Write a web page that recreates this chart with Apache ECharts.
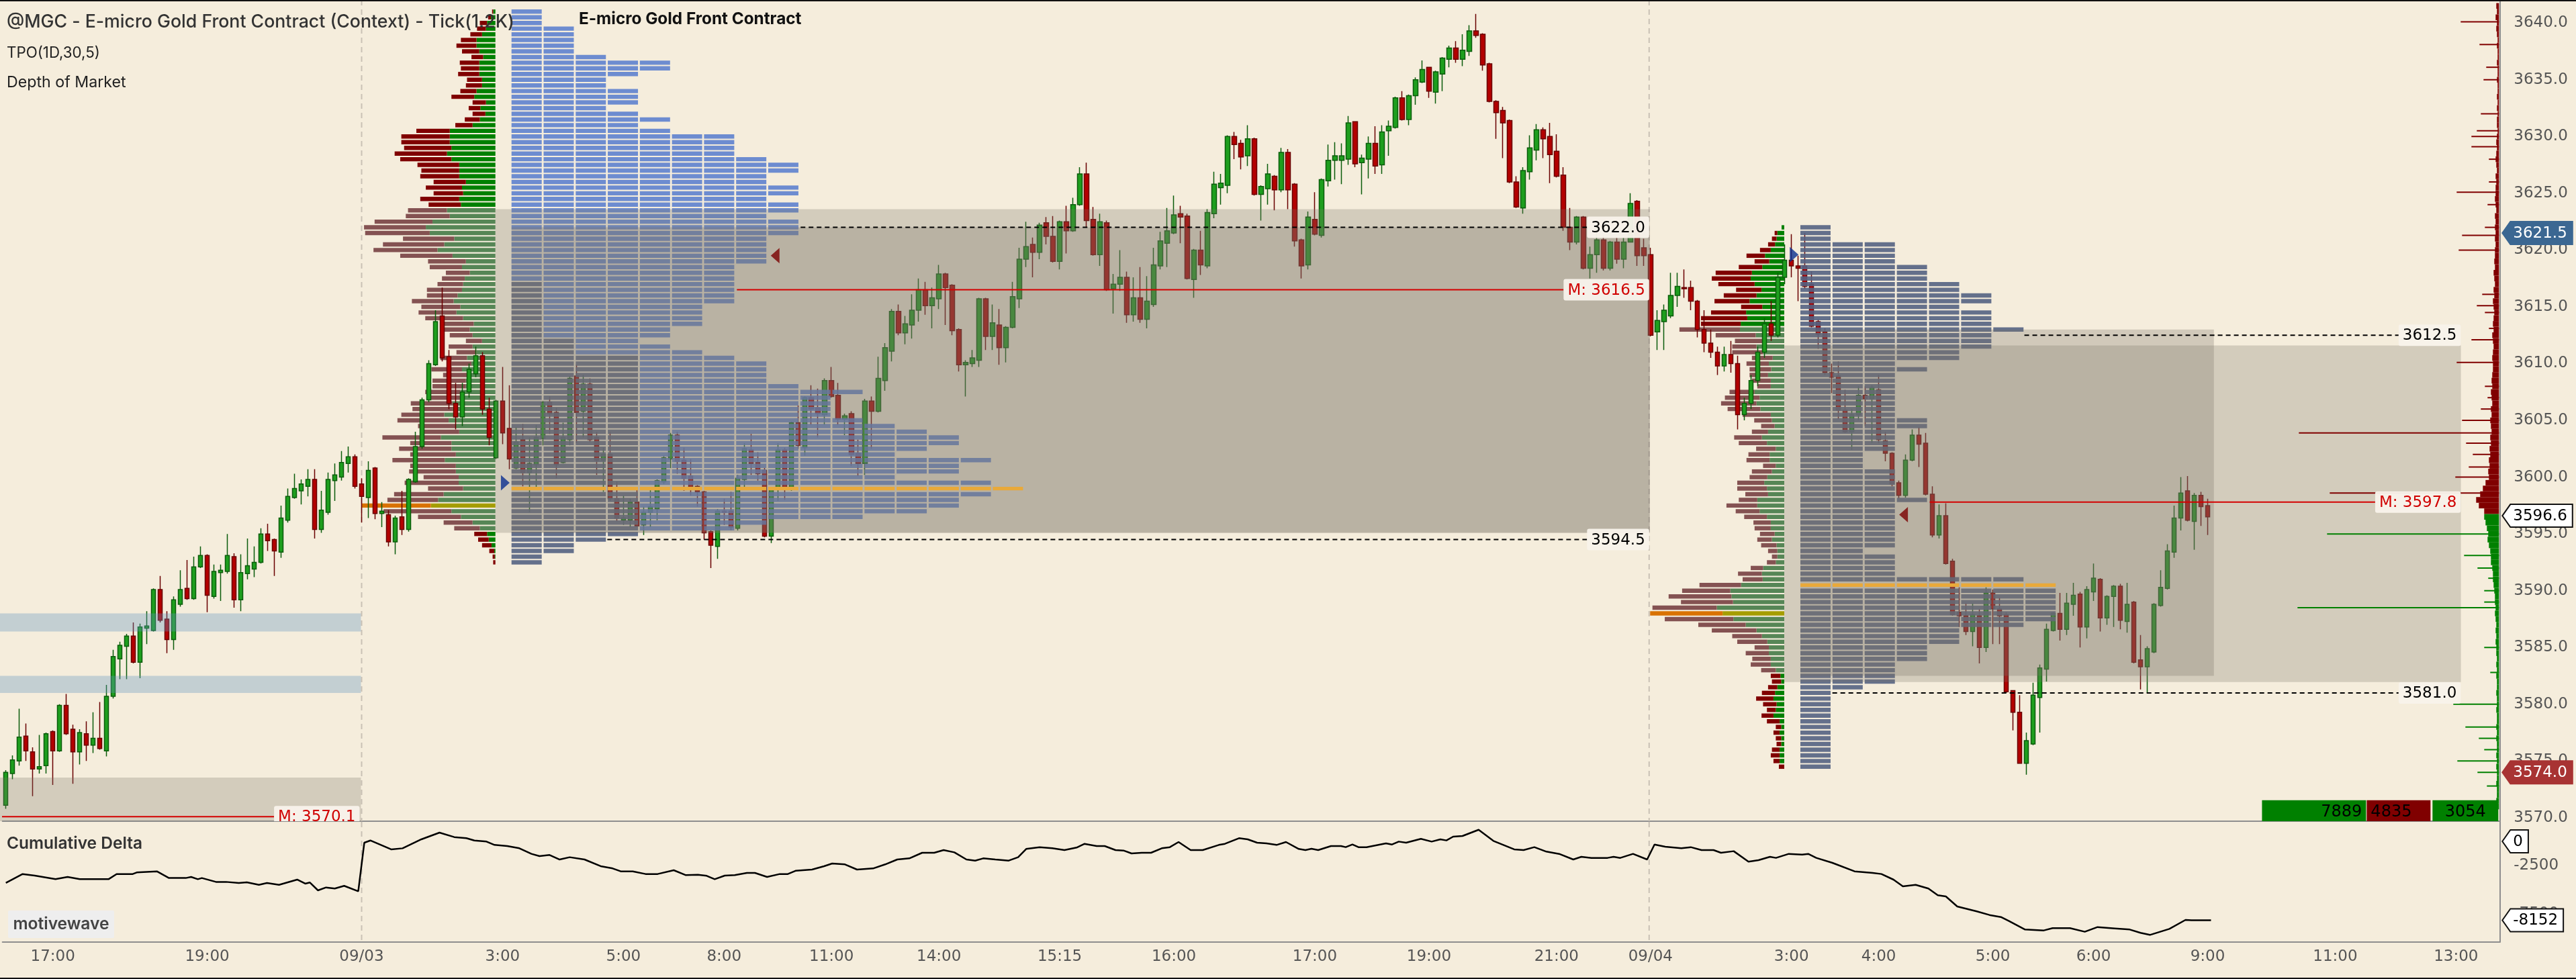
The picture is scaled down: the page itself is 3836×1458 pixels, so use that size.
<!DOCTYPE html>
<html><head><meta charset="utf-8"><title>MGC</title>
<script src="https://cdn.jsdelivr.net/npm/echarts@6.0.0/dist/echarts.min.js"></script>
<style>html,body{margin:0;padding:0;background:#f5eddc;overflow:hidden}#chart{width:3836px;height:1458px}</style>
</head><body><div id="chart"></div><script>
// ================= DATA =================
// candles: [open, high, low, close]
const candlesPre = [
[3571.1,3574.2,3570.8,3574.0],[3573.9,3575.5,3573.4,3575.1],[3575.0,3579.6,3574.6,3577.1],[3577.2,3578.3,3575.0,3575.9],[3575.8,3576.2,3571.9,3574.3],
[3574.3,3577.3,3573.9,3574.5],[3574.6,3577.5,3573.9,3577.4],[3577.6,3577.7,3572.9,3575.9],[3575.9,3580.0,3575.8,3579.9],[3579.9,3580.9,3577.3,3577.4],
[3577.8,3578.2,3573.0,3575.8],[3575.8,3577.8,3574.7,3577.5],[3577.4,3578.5,3575.0,3576.4],[3576.4,3579.3,3575.7,3577.0],[3577.0,3580.2,3576.0,3576.1],
[3575.9,3581.7,3575.4,3580.7],[3580.7,3584.8,3580.5,3584.2],[3584.0,3585.5,3582.2,3585.2],[3585.1,3586.2,3582.2,3586.0],[3586.0,3587.2,3583.6,3583.7],
[3583.7,3587.1,3582.3,3586.8],[3586.7,3588.2,3585.3,3586.9],[3586.5,3590.2,3586.4,3590.1],[3590.1,3591.3,3587.2,3587.4],[3587.5,3588.2,3584.5,3585.7],
[3585.7,3589.5,3584.8,3589.2],[3588.8,3591.8,3588.6,3590.1],[3590.2,3592.7,3589.2,3589.3],[3589.3,3593.0,3589.2,3592.1],[3592.1,3593.9,3592.0,3593.1],
[3593.1,3593.2,3588.1,3589.6],[3589.5,3592.3,3589.3,3591.7],[3591.6,3592.3,3589.1,3591.8],[3591.7,3595.0,3591.5,3593.1],[3593.0,3593.3,3588.5,3589.2],
[3589.2,3593.2,3588.2,3591.6],[3591.5,3594.6,3591.0,3592.2],[3591.9,3593.9,3591.2,3592.5],[3592.5,3595.5,3592.4,3595.0],[3595.0,3595.9,3593.5,3594.4],
[3594.5,3594.6,3591.3,3593.5],[3593.4,3597.5,3592.9,3596.4],[3596.2,3599.0,3596.0,3598.3],[3598.2,3600.3,3598.1,3599.0],[3598.8,3599.8,3597.6,3599.4],
[3599.2,3600.7,3598.3,3599.8],[3599.8,3600.7,3594.6,3595.4],[3595.4,3598.8,3595.1,3597.1],[3596.9,3600.4,3596.7,3599.8],[3599.7,3601.2,3597.9,3600.2],
[3600.0,3602.3,3599.7,3601.3],[3601.2,3602.7,3600.4,3601.8],[3601.8,3602.0,3599.0,3599.2]
];
const candlesDay1 = [
[3599.4,3599.9,3596.0,3598.3],[3598.2,3601.4,3596.4,3600.6],[3600.8,3600.9,3596.3,3596.8],[3596.8,3597.8,3595.6,3597.0],[3596.7,3597.1,3593.9,3594.3],
[3594.3,3596.6,3593.2,3596.4],[3596.5,3598.8,3594.9,3595.4],[3595.4,3599.9,3595.2,3599.8],[3599.6,3604.0,3599.5,3602.7],[3602.7,3607.0,3602.5,3606.8],
[3606.8,3610.3,3606.6,3610.0],[3609.9,3614.7,3609.8,3613.7],[3614.2,3616.7,3610.2,3610.5],[3610.6,3611.2,3606.0,3606.5],[3606.5,3608.3,3604.2,3605.3],
[3605.3,3608.3,3604.5,3607.5],[3607.5,3610.0,3607.0,3609.5],[3609.1,3611.5,3608.8,3610.7],[3610.7,3611.0,3605.5,3606.0],[3606.0,3607.0,3602.8,3603.5],
[3601.7,3606.8,3601.6,3606.7],[3606.7,3609.7,3602.9,3603.9],[3604.3,3608.1,3600.7,3601.6],[3600.8,3604.4,3600.7,3603.1],[3603.3,3604.7,3599.2,3600.4],
[3600.4,3603.5,3596.9,3601.2],[3601.1,3604.6,3599.0,3603.5],[3603.4,3606.7,3602.8,3606.6],[3606.6,3607.1,3603.8,3605.6],[3605.7,3606.1,3599.9,3601.1],
[3601.3,3604.8,3601.2,3603.5],[3603.3,3608.9,3602.8,3608.7],[3608.9,3609.9,3603.0,3605.7],[3605.8,3609.0,3603.5,3608.2],[3608.2,3608.7,3603.1,3603.3],
[3603.5,3604.0,3600.2,3601.5],[3601.5,3602.6,3598.7,3602.0],[3602.0,3604.0,3597.9,3598.1],[3598.1,3599.6,3596.1,3596.4],[3596.2,3598.4,3595.8,3596.4],
[3596.2,3598.1,3595.6,3597.8],[3597.8,3598.9,3595.6,3595.7],[3595.8,3597.4,3594.9,3596.9],[3596.9,3599.0,3595.6,3597.4],[3597.2,3599.8,3596.2,3599.7],
[3599.6,3601.9,3599.4,3601.7],[3601.6,3603.9,3600.8,3603.7],[3603.7,3604.0,3600.3,3601.4],[3601.5,3602.6,3598.8,3599.9],[3600.1,3601.6,3598.4,3599.0],
[3599.2,3599.3,3597.4,3598.7],[3598.7,3598.8,3594.5,3595.1],[3595.2,3595.3,3592.0,3594.0],[3593.9,3597.2,3592.8,3597.0],[3597.0,3598.1,3595.8,3596.9],
[3597.0,3598.7,3595.3,3595.6],[3595.5,3600.2,3595.3,3599.9],[3599.8,3603.0,3598.9,3602.5],[3602.4,3603.8,3600.2,3601.2],[3601.3,3602.2,3599.7,3600.3],
[3600.6,3600.8,3594.7,3594.8],[3594.8,3599.0,3594.2,3598.9],[3598.9,3603.0,3597.9,3602.4],[3602.4,3602.6,3598.0,3598.9],[3598.9,3604.9,3598.8,3604.8],
[3604.8,3606.3,3602.5,3602.8],[3602.6,3607.1,3601.9,3607.0],[3607.0,3608.1,3604.6,3606.0],[3606.1,3607.8,3603.5,3605.6],[3605.5,3608.7,3604.6,3608.5],
[3608.5,3609.7,3607.0,3607.1],[3607.2,3608.3,3604.6,3605.1],[3605.1,3605.6,3603.7,3605.4],[3605.6,3605.8,3601.0,3602.0],[3602.1,3603.3,3600.1,3601.2],
[3601.2,3606.9,3600.2,3606.7],[3606.7,3607.1,3602.5,3605.8],[3605.8,3610.6,3605.7,3608.7],[3608.5,3611.8,3607.6,3611.4],[3611.1,3614.8,3610.2,3614.6],
[3614.6,3615.2,3612.5,3612.7],[3612.7,3614.2,3611.7,3613.5],[3613.4,3616.1,3612.2,3614.7],[3614.7,3617.5,3613.7,3616.5],[3616.5,3617.2,3614.3,3615.1],
[3615.1,3616.7,3613.1,3615.8],[3615.7,3618.7,3614.8,3617.9],[3617.9,3618.0,3613.4,3616.7],[3616.9,3617.0,3612.5,3612.9],[3613.0,3613.1,3609.3,3609.9],
[3609.9,3610.3,3607.1,3610.1],[3610.0,3611.2,3609.7,3610.5],[3610.3,3615.8,3609.7,3615.7],[3615.7,3615.8,3611.2,3612.4],[3612.4,3615.2,3611.2,3613.6],
[3613.4,3614.8,3609.9,3611.4],[3611.4,3613.3,3610.1,3613.2],[3613.2,3617.2,3613.1,3615.9],[3615.7,3620.2,3614.9,3619.2],[3619.2,3622.5,3618.5,3620.3],
[3620.5,3621.1,3617.6,3619.8],[3619.8,3622.4,3619.2,3622.2],[3622.4,3622.9,3620.5,3621.2],[3621.2,3623.0,3618.9,3619.0],[3619.0,3622.6,3618.3,3622.5],
[3622.5,3623.9,3619.7,3621.7],[3621.7,3624.6,3621.6,3624.0],[3624.0,3627.3,3623.9,3626.7],[3626.7,3627.7,3622.0,3622.6],[3622.7,3623.8,3619.5,3619.6],
[3619.6,3623.2,3618.6,3622.5],[3622.4,3622.6,3616.4,3616.5],[3616.6,3617.9,3614.4,3617.0],[3617.0,3620.0,3616.4,3617.6],[3617.6,3618.1,3613.6,3614.3],
[3614.3,3617.6,3613.7,3615.8],[3615.8,3618.5,3613.6,3613.9],[3613.9,3617.7,3613.1,3615.5],[3615.2,3620.2,3615.0,3618.7],[3618.6,3621.6,3618.3,3620.8],
[3620.6,3623.7,3618.5,3621.7],[3621.5,3624.8,3621.4,3623.1],[3623.2,3623.9,3620.6,3622.9],[3623.0,3623.2,3617.4,3617.5],[3617.4,3620.1,3615.8,3620.0],
[3620.0,3621.7,3617.8,3618.7],[3618.6,3623.6,3618.4,3623.3],[3623.2,3626.9,3622.8,3625.8],[3625.5,3626.7,3624.0,3625.9],[3625.7,3630.1,3625.0,3630.0],
[3630.0,3630.4,3628.0,3629.3],[3629.4,3629.7,3627.1,3628.2],[3628.3,3631.0,3627.4,3629.8],[3629.8,3629.9,3624.8,3624.9],[3624.9,3625.7,3622.6,3625.6],
[3625.4,3627.6,3624.0,3626.7],[3626.5,3626.6,3623.5,3625.3],[3625.3,3629.0,3625.1,3628.6],[3628.6,3628.9,3623.6,3625.3],[3625.8,3625.9,3620.3,3620.8],
[3620.9,3621.0,3617.5,3618.6],[3618.7,3623.4,3618.3,3622.9],[3622.7,3625.1,3621.3,3621.4],[3621.3,3626.3,3621.1,3626.2],[3626.1,3629.3,3625.6,3627.9],
[3627.9,3629.5,3626.2,3628.3],[3627.9,3629.4,3625.8,3628.3],[3628.0,3631.8,3627.5,3631.2],[3631.3,3631.3,3627.3,3627.6],[3627.7,3628.4,3624.9,3628.1],
[3628.0,3630.0,3626.3,3629.4],[3629.4,3630.9,3626.7,3627.4],[3627.5,3631.0,3626.7,3630.4],[3630.5,3631.4,3628.3,3630.9],[3630.8,3633.5,3630.7,3633.4],
[3633.4,3634.0,3631.4,3631.5],[3631.5,3633.7,3631.0,3633.6],[3633.6,3635.2,3632.8,3635.0],[3634.8,3636.7,3634.7,3635.9],[3636.1,3636.1,3633.4,3634.0],
[3633.9,3635.8,3632.9,3635.7],[3635.5,3637.0,3634.0,3636.9],[3636.8,3638.0,3636.1,3637.8],[3637.8,3638.4,3636.5,3636.8],[3636.8,3639.0,3636.2,3637.6],
[3637.5,3639.8,3637.1,3639.3],[3639.3,3640.8,3638.7,3638.9],[3639.0,3639.1,3635.8,3636.3],[3636.4,3636.5,3633.0,3633.1],[3633.1,3633.2,3629.8,3632.1],
[3632.3,3632.6,3628.1,3631.2],[3631.4,3631.5,3625.9,3626.0],[3626.0,3626.5,3623.7,3623.8],[3623.7,3627.3,3623.2,3627.0],[3626.9,3630.1,3626.2,3629.0],
[3628.8,3631.1,3627.9,3630.6],[3630.6,3630.8,3628.1,3629.8],[3630.0,3631.2,3625.9,3628.4],[3628.7,3630.2,3626.4,3626.5],[3626.6,3627.3,3621.7,3622.0],
[3622.0,3623.7,3620.0,3620.7],[3620.7,3623.0,3620.5,3622.9],[3622.9,3623.0,3618.3,3618.4],[3618.4,3620.3,3617.5,3619.6],[3619.6,3622.1,3618.0,3620.9],
[3620.9,3621.3,3618.2,3618.4],[3618.4,3620.8,3618.2,3620.7],[3620.7,3621.1,3618.8,3619.2],[3619.2,3621.1,3618.4,3620.7],[3620.7,3625.0,3620.7,3624.1],
[3624.3,3624.4,3618.6,3619.5],[3620.2,3621.0,3618.6,3619.5]
];
const candlesDay2 = [
[3619.6,3620.2,3612.4,3612.5],[3612.8,3614.7,3611.2,3613.8],[3613.7,3615.2,3611.2,3614.7],[3614.2,3618.0,3614.0,3616.0],[3616.0,3618.0,3615.0,3616.8],
[3616.7,3618.3,3615.8,3616.6],[3616.7,3617.3,3614.7,3615.5],[3615.5,3615.6,3612.3,3613.0],[3613.0,3614.7,3611.0,3611.8],[3611.8,3613.0,3610.5,3611.0],
[3611.0,3611.5,3609.0,3609.8],[3609.8,3611.5,3609.3,3610.8],[3610.8,3612.0,3609.2,3610.0],[3610.0,3610.7,3604.2,3605.5],[3605.5,3607.0,3605.0,3606.5],
[3606.5,3609.0,3606.0,3608.5],[3608.5,3611.5,3608.0,3611.0],[3611.0,3614.0,3610.5,3613.5],[3613.5,3615.5,3612.0,3612.5],[3612.5,3618.0,3612.3,3617.6],
[3617.6,3620.5,3617.0,3619.1],[3619.1,3621.4,3617.6,3618.6],[3618.6,3619.5,3615.5,3618.4],[3618.6,3621.5,3616.6,3616.8],[3617.0,3618.1,3613.2,3613.3],
[3613.7,3613.9,3611.3,3612.6],[3612.8,3613.1,3609.0,3609.2],[3609.2,3610.0,3607.4,3608.8],[3608.9,3610.2,3605.1,3605.9],[3605.9,3607.7,3603.9,3604.0],
[3604.0,3606.0,3602.4,3605.5],[3605.5,3608.0,3605.0,3607.2],[3607.2,3608.0,3604.5,3606.9],[3606.9,3608.1,3603.0,3607.9],[3607.7,3609.0,3603.0,3603.3],
[3603.2,3604.0,3601.4,3602.1],[3602.1,3602.2,3599.2,3599.4],[3599.5,3599.7,3598.1,3598.4],[3598.4,3602.0,3598.2,3601.5],[3601.5,3604.2,3601.4,3603.7],
[3603.7,3604.4,3600.9,3602.9],[3603.0,3603.9,3598.4,3598.5],[3598.5,3599.2,3594.7,3594.9],[3594.9,3597.6,3594.6,3596.6],[3596.6,3597.7,3592.3,3592.4],
[3592.6,3592.8,3587.8,3587.9],[3588.1,3590.3,3586.8,3587.8],[3587.8,3588.9,3586.1,3586.4],[3586.4,3588.9,3585.1,3587.9],[3587.8,3588.4,3583.6,3585.0],
[3585.0,3590.3,3584.6,3589.8],[3589.8,3590.1,3585.3,3588.4],[3588.4,3589.4,3585.3,3587.8],[3587.9,3588.1,3581.0,3581.1],[3581.2,3581.2,3577.7,3579.3],
[3579.3,3580.8,3574.8,3574.8],[3574.8,3577.5,3573.8,3576.8],[3576.5,3581.9,3576.4,3580.8],[3580.6,3583.5,3577.5,3583.2],[3583.1,3587.1,3582.0,3586.6],
[3586.5,3588.1,3586.4,3588.0],[3588.0,3589.8,3585.6,3586.6],[3586.6,3589.8,3586.1,3588.9],[3588.8,3590.7,3587.8,3589.6],[3589.7,3589.9,3585.0,3586.8],
[3586.8,3590.4,3585.8,3590.1],[3589.9,3592.4,3589.1,3591.1],[3591.0,3591.1,3586.4,3587.6],[3587.6,3589.6,3587.0,3589.5],[3589.5,3590.5,3586.8,3590.4],
[3590.4,3590.6,3586.6,3587.4],[3587.3,3590.7,3586.3,3588.8],[3589.0,3589.1,3583.6,3583.7],[3583.9,3586.1,3581.3,3583.3],[3583.3,3585.1,3581.0,3584.9],
[3584.6,3588.9,3584.5,3588.8],[3588.7,3591.8,3588.6,3590.3],[3590.2,3594.1,3590.1,3593.5],[3593.4,3597.5,3592.9,3596.4],[3596.4,3600.0,3595.3,3598.6],
[3598.8,3600.1,3596.1,3596.2],[3596.1,3598.6,3593.6,3598.4],[3598.4,3598.7,3595.7,3597.4],[3597.5,3598.1,3594.9,3596.5]
];
// x-axis tick labels at bar index
const timeLabels = [[7,'17:00'],[30,'19:00'],[53,'09/03'],[74,'3:00'],[92,'5:00'],[107,'8:00'],[123,'11:00'],[139,'14:00'],[157,'15:15'],[174,'16:00'],
 [195,'17:00'],[212,'19:00'],[231,'21:00'],[245,'09/04'],[266,'3:00'],[279,'4:00'],[296,'5:00'],[311,'6:00'],[328,'9:00'],[347,'11:00'],[365,'13:00']];
const priceTicks = [3570,3575,3580,3585,3590,3595,3600,3605,3610,3615,3620,3625,3630,3635,3640];
const deltaTicks = [-2500,-7500];
// cumulative delta: [bar index, value]
const cumDelta = [
[0,-4300],[2.5,-3380],[4.3,-3540],[7.4,-3910],[9.2,-3680],[11,-3910],[15.3,-3910],[16.5,-3380],[18.9,-3380],[19.5,-3215],[22.5,-3100],[24.3,-3790],[26.8,-3790],[27.6,-3680],[28.6,-3910],[29.2,-3790],[31.3,-4190],[32.8,-4190],[34.7,-4300],[35.9,-4230],[37.7,-4490],[38.9,-4300],[40.7,-4490],[43.4,-3955],[44.6,-4370],[45.3,-4255],[46.5,-5065],[47.7,-4765],[49,-4880],[50.4,-4600],[52.5,-5160],
[53.4,-140],[54.3,90],[57.4,-830],[59.1,-720],[61.9,210],[64.6,900],[66.8,440],[68.6,325],[69.8,90],[71.6,-25],[72.8,-370],[74.7,-485],[76.5,-715],[78.3,-1295],[79.5,-1525],[81,-1410],[82.5,-1875],[84,-1640],[86.2,-1875],[88.6,-2565],[90.4,-2800],[91.6,-3100],[93.4,-3100],[95.3,-3375],[97.1,-3375],[99.5,-2985],[101.3,-3490],[103.1,-3445],[104.4,-3560],[105.6,-3910],[107.1,-3540],[108.6,-3490],[110.4,-3260],[111.6,-3260],[113.4,-3680],[115.3,-3375],[116.5,-3375],[117.7,-3030],[120.1,-2915],[121.9,-2565],[123.1,-2290],[125,-2380],[126.8,-2915],[129.2,-2800],[131,-2380],[132.8,-1875],[134.6,-1760],[136.5,-1180],[138.3,-1180],[139.7,-900],[141.3,-1135],[143.1,-1875],[144.4,-1990],[145.6,-1760],[147.4,-1875],[149.4,-1990],[150.8,-1640],[152,-785],[154,-600],[155.9,-715],[157.7,-900],[159.5,-645],[160.7,-255],[162.5,-485],[163.7,-485],[165.3,-900],[166.5,-950],[167.7,-1250],[169.2,-1180],[170.6,-1180],[172.2,-715],[173.4,-600],[174.7,-70],[176.5,-900],[178.3,-900],[180.7,-370],[181.6,-255],[183.7,325],[185,210],[186.4,-140],[187.8,-210],[189.3,-370],[190.7,-70],[192.6,-785],[193.6,-900],[194.5,-765],[195.5,-900],[197.4,-485],[198.9,-485],[199.6,-600],[200.6,-325],[201.5,-600],[202.7,-600],[205.6,-210],[206.5,-325],[207.5,-25],[208.6,-140],[210.8,255],[212.4,-25],[213.7,210],[214.6,95],[215.6,485],[217,555],[219.4,1200],[221.6,45],[224.7,-830],[226.1,-900],[227.7,-600],[229.5,-1065],[231.4,-1295],[233.5,-1875],[234.7,-1595],[236.2,-1710],[238.6,-1710],[239.5,-1595],[240.5,-1710],[242.4,-1295],[244.5,-1875],
[245.6,-325],[247.2,-555],[249.6,-715],[251,-600],[252.6,-900],[254.4,-900],[255.5,-1180],[257.4,-1015],[259.6,-2105],[261.1,-1940],[262.8,-1595],[263.7,-1710],[265.6,-1295],[267.6,-1365],[268.5,-1295],[269.7,-1710],[272.1,-2220],[275.4,-3100],[278.1,-3260],[279.4,-3375],[281.2,-3955],[282.6,-4650],[284.5,-4490],[286.4,-4880],[287.8,-5575],[289,-5690],[290.7,-6730],[293.6,-7240],[295.5,-7610],[297.2,-7820],[298.4,-8235],[300.8,-9115],[303.6,-9205],[304.9,-8975],[307.5,-8975],[309.7,-9345],[311.6,-8860],[314.2,-9000],[316.4,-9115],[318,-9460],[319.4,-9670],[322.3,-9045],[324.7,-8120],[325.6,-8152],[328.5,-8152]
];
// Session 1 (09/03) profile rows: price = 3641.0 - 0.5*i
const prof1Buy = [4,8,15,17,24,34,34,29,22,29, 29,29,24,24,34,38,17,27,18,28, 41,82,82,82,79,87,79,65,65,65, 53,60,58,65,62,87,82,113,125,118, 74,92,104,77,53,60,46,55,58,60, 68,75,63,70,58,39,46,41,24,41, 34,51,43,60,48,53,53,63,58,77, 77,92,84,71,65,98,79,79,71,91, 71,71,66,66,58,93,103,116,79,62, 41,28,15,12,7,2,1,0];
const prof1Sell = [2,5,13,16,21,28,36,31,21,35, 33,38,27,29,29,41,24,21,23,27, 31,60,87,87,85,94,92,75,68,70, 58,65,53,70,58,70,79,104,111,116, 92,110,115,94,68,58,43,41,46,63, 55,75,70,68,68,60,53,41,29,43, 36,48,36,55,46,60,60,63,63,75, 72,77,92,68,63,105,74,94,82,94, 82,84,63,97,63,89,91,125,122,77, 52,46,23,19,17,9,4,4];
const tpo1Count = [1,1,1,2,2,2,2,2,3,5, 5,4,3,3,4,4,4,3,4,5, 4,5,7,7,7,7,8,9,9,8, 8,9,9,8,9,9,8,9,9,9, 8,8,8,8,8,7,7,7,7,7, 7,7,6,6,6,6,5,5,4,5, 6,7,8,8,8,8,9,11,10,10, 10,10,11,12,13,14,14,13,12,15, 14,14,12,15,16,15,14,14,13,11, 8,7,4,3,2,2,1,1];
const tpo1Early = [0,0,0,0,0,0,0,0,0,0, 0,0,0,0,0,0,0,0,0,0, 0,0,0,0,0,0,0,0,0,0, 0,0,0,0,0,0,0,0,0,0, 0,0,0,0,0,0,0,0,1,1, 1,1,1,1,1,1,1,1,2,2, 2,4,4,4,4,4,4,4,4,4, 4,4,4,4,4,4,4,4,4,4, 4,4,4,4,4,4,4,4,4,4, 4,4,4,9,9,9,9,9];
// Session 2 (09/04) profile rows: price = 3622.0 - 0.5*j
const prof2Buy = [7,18,20,24,35,50,39,57,84,87, 77,59,72,90,57,99,96,113,115,74, 57,72,55,30,40,34,42,35,35,77, 64,72,62,35,32,25,42,58,45,22, 38,38,22,32,44,52,45,42,70,70, 64,45,35,35,25,32,20,18,18,22, 55,58,56,112,140,137,133,175,160,132, 100,72,58,44,40,40,35,35,22,10, 8,18,24,28,20,22,28,12,8,12, 8,8,12,12,12,0];
const prof2Sell = [0,7,12,18,28,48,38,61,94,101, 94,66,85,91,55,91,120,103,157,104, 71,63,80,54,58,56,48,49,35,65, 90,92,85,73,46,35,42,72,73,51, 55,60,33,52,46,70,77,59,48,80, 62,59,45,42,38,38,40,24,14,23, 32,62,52,108,125,163,135,167,188,178, 123,116,77,78,37,60,48,52,38,25, 24,24,34,45,35,23,31,33,14,16, 14,12,20,23,16,14];
const tpo2Count = [1,1,1,3,3,3,3,4,4,4, 5,5,6,6,5,6,6,6,7,6, 6,6,5,5,3,4,3,3,3,3, 3,3,3,3,4,4,3,3,3,3, 2,2,2,3,3,3,3,3,4,3, 3,3,3,3,3,3,3,2,3,3, 3,3,7,8,8,8,8,8,8,8, 7,5,5,5,4,4,4,3,3,3, 3,2,1,1,1,1,1,1,1,1, 1,1,1,1,1,1];
// Depth of market (right edge): body sizes per 0.5 level and individual large orders
const domAskBody = [4,3,5,3,4,3,2,3, 2,2,3,2,2,3,2,2,3,2,3,2,3,3,2,3, 4,3,4,5,4,3,5,4,5,5,6,5,4,6,5,6,5,6,5,6, 6,7,6,8,7,6,8,7,9,8,7,8,9,8,10,9,8,9,10,9, 9,10,11,10,12,11,10,12,11,13,12,11,13,12,14,13,15,14,16,15, 20,24,28,34,30,22]; // from 3641.5 down
const domBidBody = [22,20,18,16,17,15, 13,12,12,10,9,9,8,7, 6,6,5,6,5,4,5,4,5,4, 4,3,4,3,4,3,3,4,3,3,4,3,3,4,3,4,3,3,4,3,4,3,3,4,3,3,4,3]; // from 3596.5 down
const domAskLines = [[3640.1,57],[3638.1,29],[3636.1,19],[3635.0,23],[3632.0,27],[3630.5,33],[3630.0,41],[3629.1,41],[3628.0,15],[3626.0,15],[3625.1,63],[3624.0,17],[3622.0,21],[3621.3,55],[3620.0,60],[3616.1,25],[3615.1,33],[3614.5,21],[3613.1,15],[3612.1,41],[3610.1,63],[3608.0,21],[3607.0,17],[3606.0,27],[3605.0,55],[3603.9,298],[3603.0,49],[3602.0,39],[3600.9,45],[3600.0,65],[3598.6,252]];
const domBidLines = [[3595.0,256],[3593.1,52],[3592.0,32],[3591.1,16],[3590.0,22],[3589.0,22],[3588.5,300],[3585.0,22],[3582.8,13],[3580.0,68],[3578.0,50],[3577.0,30],[3576.0,22],[3575.0,62],[3574.0,32],[3572.8,18]];
const domTotals = [['7889','bid'],['4835','ask'],['3054','bid']];
// value-area / midpoint levels
const levels = [
 {price:3622.0, from:118.4, text:'3622.0', session:1},
 {price:3594.5, from:89.6, text:'3594.5', session:1},
 {price:3616.5, from:108.9, text:'M: 3616.5', session:1},
 {price:3612.5, from:300.7, text:'3612.5', session:2},
 {price:3581.0, from:272.1, text:'3581.0', session:2},
 {price:3597.8, from:286.6, text:'M: 3597.8', session:2},
 {price:3570.1, from:-0.87, text:'M: 3570.1', session:0}
];
const vaBoxes = [[72.93,244.9,3595.1,3623.6,'outer'],[75.33,244.9,3595.1,3622.0,'inner'],[264.93,365.73,3581.95,3611.6,'outer'],[267.33,328.93,3582.5,3613.0,'inner'],[-0.87,52.9,3569.7,3573.55,'outer']];
const zoneBands = [[-0.87,52.9,3586.4,3588.0],[-0.87,52.9,3581.0,3582.5]];
const tpoMarkers = [[74.4,3599.5,'open'],[114.6,3619.5,'close'],[266.4,3619.6,'open'],[282.7,3596.7,'close']];
const priceTags = [{v:3621.5,text:'3621.5',style:'blue'},{v:3596.6,text:'3596.6',style:'white'},{v:3574.0,text:'3574.0',style:'red'}];
const deltaTags = [{v:0,text:'0',style:'white'},{v:-8152,text:'-8152',style:'white'}];

// ================= LAYOUT / STYLE =================
const NBARS = 372;
const SESS = {
  prof1:{axisK:72.93,startP:3641.0,step:0.5,scale:0.829,mutedLo:35,mutedHi:91,poc:87},
  prof2:{axisK:264.93,startP:3622.0,step:0.5,scale:0.574,mutedLo:18,mutedHi:78,poc:68},
  tpo1:{startK:75.33,pitchK:4.78,blockK:4.5,startP:3641.0,step:0.5,poc:84},
  tpo2:{startK:267.33,pitchK:4.79,blockK:4.5,startP:3622.0,step:0.5,poc:63}
};
const LABEL_END = {0:52.7, 1:244.8, 2:365.7};
const TOTAL_POS = [[336.1,351.6,'right'],[351.7,361.2,'left'],[361.5,371.3,'center']];
const COL = {
  bg:'#f5eddc', buy:'#008000', sell:'#800000', buyMuted:'#568656', sellMuted:'#845252',
  pocBuy:'#a59d00', pocSell:'#d97200', tpoBlue:'rgba(86,124,206,0.86)', tpoSlate:'rgba(84,98,130,0.9)', tpoPoc:'#e9a93a',
  outer:'rgba(122,114,104,0.27)', inner:'rgba(122,114,104,0.29)', band:'rgba(100,150,190,0.34)'
};
const TAGSTYLE = {blue:{fill:'#3b6792',stroke:'#3b6792',text:'#fff'}, red:{fill:'#a83333',stroke:'#a83333',text:'#fff'}, white:{fill:'#ffffff',stroke:'#111',text:'#000'}};
const AXIS_FONT = '23px "DejaVu Sans"';
const FAM = 'Inter, "Noto Sans", sans-serif';

const mctx = document.createElement('canvas').getContext('2d');
function textW(t, font){ mctx.font = font; return mctx.measureText(t).width; }
function fitSize(text, target, weight){ mctx.font = weight + ' 100px ' + FAM; return Math.round(1000*target/mctx.measureText(text).width)/10; }

const cats = Array.from({length:NBARS}, (_, i) => i);
const labelMap = {}; timeLabels.forEach(t => labelMap[t[0]] = t[1]);
const candleData = candlesPre.concat(candlesDay1, candlesDay2).map(c => [c[0], c[3], c[2], c[1]]);

// ================= RENDERERS =================
function profileRender(cfg){
  return function(params, api){
    const i = api.value(0), g = api.value(1), r = api.value(2);
    const p = cfg.startP - cfg.step*i;
    const c = api.coord([cfg.axisK, p]);
    const h = api.size([0, cfg.step])[1]*0.76;
    const poc = i === cfg.poc, muted = i >= cfg.mutedLo && i <= cfg.mutedHi;
    const gw = g*cfg.scale, rw = r*cfg.scale, y = c[1]-h/2;
    return {type:'group', children:[
      {type:'rect', shape:{x:c[0]-gw, y:y, width:gw, height:h}, style:{fill: poc?COL.pocBuy:(muted?COL.buyMuted:COL.buy)}},
      {type:'rect', shape:{x:c[0]-gw-rw, y:y, width:rw, height:h}, style:{fill: poc?COL.pocSell:(muted?COL.sellMuted:COL.sell)}}
    ]};
  };
}
function tpoRender(cfg, pocOnly){
  return function(params, api){
    const i = api.value(0), n = api.value(1), early = api.value(2);
    const isPoc = i === cfg.poc;
    if (isPoc !== pocOnly) return {type:'group', children:[]};
    const p = cfg.startP - cfg.step*i;
    const h = api.size([0, cfg.step])[1]*(isPoc?0.62:0.76);
    const ch = [];
    for (let j = 0; j < n; j++){
      const a = api.coord([cfg.startK + j*cfg.pitchK, p]);
      const b = api.coord([cfg.startK + j*cfg.pitchK + cfg.blockK, p]);
      ch.push({type:'rect', shape:{x:a[0], y:a[1]-h/2, width:b[0]-a[0], height:h},
        style:{fill: isPoc ? COL.tpoPoc : (j < early ? COL.tpoSlate : COL.tpoBlue)}});
    }
    return {type:'group', children:ch};
  };
}
function boxRender(fill){
  return function(params, api){
    const a = api.coord([api.value(0), api.value(3)]);
    const b = api.coord([api.value(1), api.value(2)]);
    return {type:'rect', shape:{x:a[0], y:a[1], width:b[0]-a[0], height:b[1]-a[1]}, style:{fill:fill}};
  };
}
function domRender(color, thin){
  return function(params, api){
    const p = api.value(0), s = api.value(1), cs = params.coordSys;
    const xr = cs.x + cs.width - 1;
    const y = api.coord([0, p])[1];
    const h = thin ? 2 : api.size([0, 0.5])[1];
    return {type:'rect', shape:{x:xr - s, y:y - h/2, width:s, height:h}, style:{fill:color}};
  };
}
function levelRender(params, api){
  const L = levels[params.dataIndex];
  const endK = LABEL_END[L.session];
  const e = api.coord([endK, L.price]);
  const s = api.coord([L.from, L.price]);
  const w = textW(L.text, AXIS_FONT) + 12;
  const xl = e[0] - w, y = e[1];
  const mid = L.text.indexOf('M') === 0;
  return {type:'group', children:[
    {type:'line', shape:{x1:s[0], y1:y, x2:xl, y2:y}, style:{stroke: mid?'#d40000':'#000', lineWidth:2, lineDash: mid?null:[7,5]}},
    {type:'rect', shape:{x:xl, y:y-16, width:w, height:32, r:3}, style:{fill:'rgba(248,243,234,0.96)'}},
    {type:'text', style:{x:xl+6, y:y+1, text:L.text, font:AXIS_FONT, fill: mid?'#d00000':'#000', verticalAlign:'middle', align:'left'}}
  ]};
}
function vlineRender(params, api){
  const cs = params.coordSys;
  const x = api.coord([api.value(0), api.value(1)])[0];
  return {type:'line', shape:{x1:x, y1:cs.y, x2:x, y2:cs.y+cs.height}, style:{stroke:'#c9c1b5', lineWidth:2, lineDash:[8,6]}};
}
function tagRender(tags){
  return function(params, api){
    const t = tags[params.dataIndex], cs = params.coordSys;
    const x0 = cs.x + cs.width + 4;
    const y = api.coord([0, t.v])[1];
    const w = textW(t.text, AXIS_FONT) + 24, h = 34;
    const st = TAGSTYLE[t.style];
    return {type:'group', children:[
      {type:'polygon', shape:{points:[[x0,y],[x0+12,y-h/2],[x0+w,y-h/2],[x0+w,y+h/2],[x0+12,y+h/2]]}, style:{fill:st.fill, stroke:st.stroke, lineWidth:2}},
      {type:'text', style:{x:x0+16, y:y+1, text:t.text, font:AXIS_FONT, fill:st.text, verticalAlign:'middle', align:'left'}}
    ]};
  };
}
function totalsRender(params, api){
  const d = domTotals[params.dataIndex], pos = TOTAL_POS[params.dataIndex];
  const a = api.coord([pos[0], 3571.55]);
  const b = api.coord([pos[1], 3569.7]);
  const tx = pos[2]==='right' ? b[0]-6 : (pos[2]==='left' ? a[0]+6 : (a[0]+b[0])/2);
  return {type:'group', children:[
    {type:'rect', shape:{x:a[0], y:a[1], width:b[0]-a[0], height:b[1]-a[1]}, style:{fill: d[1]==='bid'?'#008000':'#800000'}},
    {type:'text', style:{x:tx, y:(a[1]+b[1])/2+2, text:d[0], font:'24px "DejaVu Sans"', fill:'#000', align:pos[2], verticalAlign:'middle'}}
  ]};
}
function cs(name, xi, yi, data, renderItem, z, extra){
  return Object.assign({type:'custom', name:name, xAxisIndex:xi, yAxisIndex:yi, data:data, renderItem:renderItem, z:z, silent:true, animation:false}, extra||{});
}

// ================= CHART =================
const chart = echarts.init(document.getElementById('chart'), null, {renderer:'canvas', width:3836, height:1458});
const axisLineStyle = {color:'#8e8e8e', width:2};
const labelStyle = {color:'#555', fontFamily:'DejaVu Sans', fontSize:23};

const textEls = [
 ['@MGC - E-micro Gold Front Contract (Context) - Tick(1.2K)', 10, 33, 757, 500, '#333'],
 ['E-micro Gold Front Contract', 862, 29, 332, 700, '#111'],
 ['TPO(1D,30,5)', 10, 79, 139, 400, '#222'],
 ['Depth of Market', 10, 123, 178, 400, '#222'],
 ['Cumulative Delta', 10, 1257, 202, 600, '#333']
].map(t => ({type:'text', x:t[1], y:t[2], z:100, style:{text:t[0], font: t[4] + ' ' + fitSize(t[0], t[3], t[4]) + 'px ' + FAM, fill:t[5], verticalAlign:'middle'}}));
textEls.push({type:'rect', shape:{x:12, y:1356, width:158, height:41, r:2}, style:{fill:'#eeeeee'}, z:99});
textEls.push({type:'text', x:91, y:1377, z:100, style:{text:'motivewave', font:'600 ' + fitSize('motivewave', 143, 600) + 'px ' + FAM, fill:'#444', align:'center', verticalAlign:'middle'}});
textEls.push({type:'rect', shape:{x:0, y:0, width:3836, height:2}, style:{fill:'#111'}, z:100});
textEls.push({type:'rect', shape:{x:0, y:1456, width:3836, height:2}, style:{fill:'#111'}, z:100});

const option = {
  animation:false,
  backgroundColor: COL.bg,
  grid:[
    {left:3.7, right:113.7, top:0, height:1223, outerBoundsMode:'none', containLabel:false},
    {left:3.7, right:113.7, top:1224, height:179, outerBoundsMode:'none', containLabel:false}
  ],
  xAxis:[
    {type:'category', gridIndex:0, data:cats, boundaryGap:true, axisLine:{show:true, onZero:false, lineStyle:axisLineStyle}, axisTick:{show:false}, axisLabel:{show:false}, splitLine:{show:false}},
    {type:'value', gridIndex:0, min:-0.5, max:NBARS-0.5, show:false, axisLine:{onZero:false}},
    {type:'category', gridIndex:1, data:cats, boundaryGap:true, position:'bottom', axisLine:{show:true, onZero:false, lineStyle:axisLineStyle}, axisTick:{show:false},
      axisLabel:Object.assign({interval:0, margin:11, formatter:(v, idx) => labelMap[idx] || ''}, labelStyle), splitLine:{show:false}},
    {type:'value', gridIndex:1, min:-0.5, max:NBARS-0.5, show:false, axisLine:{onZero:false}}
  ],
  yAxis:[
    {type:'value', gridIndex:0, position:'right', min:3569.70, max:3642.022, axisLine:{show:true, onZero:false, lineStyle:axisLineStyle}, axisTick:{show:false}, splitLine:{show:false},
      axisLabel:Object.assign({customValues:priceTicks, margin:21, formatter:v => Number(v).toFixed(1)}, labelStyle)},
    {type:'value', gridIndex:1, position:'right', min:-10410, max:2013, axisLine:{show:true, onZero:false, lineStyle:axisLineStyle}, axisTick:{show:false}, splitLine:{show:false},
      axisLabel:Object.assign({customValues:deltaTicks, margin:21, formatter:v => String(v)}, labelStyle)}
  ],
  graphic:{elements:textEls},
  series:[
    cs('sep0', 1, 0, [[53, 3600], [244.8, 3600]], vlineRender, 1),
    cs('sep1', 3, 1, [[53, -5000], [244.8, -5000]], vlineRender, 1),
    cs('prof1', 1, 0, prof1Buy.map((g, i) => [i, g, prof1Sell[i]]), profileRender(SESS.prof1), 1),
    cs('prof2', 1, 0, prof2Buy.map((g, j) => [j, g, prof2Sell[j]]), profileRender(SESS.prof2), 1),
    {type:'candlestick', xAxisIndex:0, yAxisIndex:0, data:candleData, barWidth:7, z:2, silent:true,
      itemStyle:{color:'#1e9e1e', color0:'#b30000', borderColor:'#0b5c0b', borderColor0:'#6a0000', borderWidth:1.5}},
    cs('tpo1', 1, 0, tpo1Count.map((n, i) => [i, n, tpo1Early[i]]), tpoRender(SESS.tpo1, false), 3),
    cs('tpo2', 1, 0, tpo2Count.map((n, j) => [j, n, n]), tpoRender(SESS.tpo2, false), 3),
    cs('outer', 1, 0, vaBoxes.filter(b => b[4]==='outer').map(b => b.slice(0,4)), boxRender(COL.outer), 4),
    cs('inner', 1, 0, vaBoxes.filter(b => b[4]==='inner').map(b => b.slice(0,4)), boxRender(COL.inner), 5),
    cs('bands', 1, 0, zoneBands, boxRender(COL.band), 5),
    cs('tpo1poc', 1, 0, tpo1Count.map((n, i) => [i, n, 0]), tpoRender(SESS.tpo1, true), 6),
    cs('tpo2poc', 1, 0, tpo2Count.map((n, j) => [j, n, 0]), tpoRender(SESS.tpo2, true), 6),
    cs('askBody', 1, 0, domAskBody.map((s, i) => [3641.5 - 0.5*i, s]), domRender('#800000', false), 6),
    cs('bidBody', 1, 0, domBidBody.map((s, i) => [3596.5 - 0.5*i, s]), domRender('#008000', false), 6),
    cs('askLines', 1, 0, domAskLines, domRender('#800000', true), 6),
    cs('bidLines', 1, 0, domBidLines, domRender('#008000', true), 6),
    cs('levels', 1, 0, levels.map(l => [l.from, l.price]), levelRender, 7, {clip:true}),
    {type:'scatter', xAxisIndex:1, yAxisIndex:0, z:8, silent:true, symbol:'triangle', symbolSize:[23,13],
      data: tpoMarkers.map(m => ({value:[m[0], m[1]], symbolRotate: m[2]==='open' ? -90 : 90, itemStyle:{color: m[2]==='open' ? '#0b2f90' : '#7a0000'}}))},
    cs('totals', 1, 0, domTotals.map((d, i) => [TOTAL_POS[i][0], 3570.5]), totalsRender, 9),
    cs('priceTags', 1, 0, priceTags.map(t => [0, t.v]), tagRender(priceTags), 9),
    {type:'line', xAxisIndex:3, yAxisIndex:1, data:cumDelta, symbol:'none', silent:true, z:3, lineStyle:{color:'#000', width:2.5}},
    cs('deltaTags', 3, 1, deltaTags.map(t => [0, t.v]), tagRender(deltaTags), 9)
  ]
};
chart.setOption(option);
</script></body></html>
